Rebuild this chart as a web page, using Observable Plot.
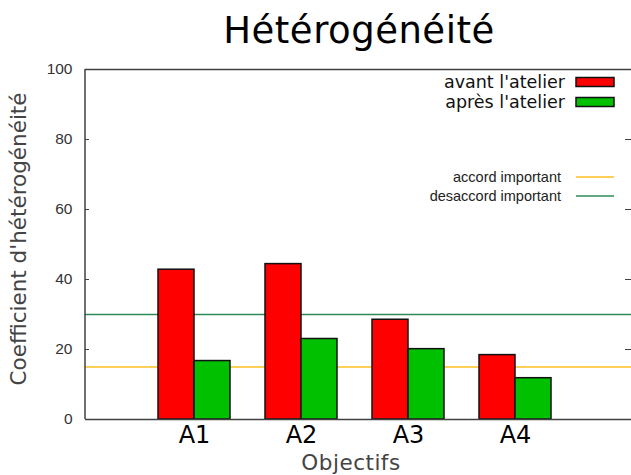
<!DOCTYPE html>
<html>
<head>
<meta charset="utf-8">
<script src="https://cdn.jsdelivr.net/npm/d3@7"></script>
<script src="https://cdn.jsdelivr.net/npm/@observablehq/plot@0.6"></script>
<style>
  html, body { margin: 0; padding: 0; background: #fff; overflow: hidden; }
  #wrap { position: relative; width: 631px; height: 475px; }
</style>
</head>
<body>
<div id="wrap"></div>
<script>
const categories = ["A1", "A2", "A3", "A4"];
const avant = [42.8, 44.4, 28.5, 18.4];
const apres = [16.7, 23.0, 20.1, 11.8];
const seriesNames = ["avant l'atelier", "après l'atelier"];
const thresholdNames = ["accord important", "desaccord important"];
const thresholdValues = [15, 30];
const yTicks = [0, 20, 40, 60, 80, 100];

const data = categories.map((c, i) => ({cat: c, avant: avant[i], apres: apres[i]}));
const thresholds = thresholdNames.map((n, i) => ({name: n, value: thresholdValues[i]}));
const colors = {avant: "#ff0000", apres: "#00c000", accord: "#ffc020", desaccord: "#2e8b57"};

const W = 631, H = 475, mL = 85, mT = 69, mB = 56;
const axisColor = "#404040";

const chart = Plot.plot({
  width: W, height: H,
  marginLeft: mL, marginRight: 0, marginTop: mT, marginBottom: mB,
  style: {fontFamily: "DejaVu Sans, sans-serif", background: "white"},
  x: {domain: categories, range: [mL, 633], paddingInner: 0.331, paddingOuter: 0.71, align: 0.47, axis: null},
  y: {domain: [0, 100], axis: null},
  marks: [
    Plot.ruleY(thresholds, {y: "value", stroke: d => d.name === "accord important" ? colors.accord : colors.desaccord, strokeWidth: 1.5}),
    Plot.barY(data, {x: "cat", y: "avant", fill: colors.avant, stroke: "#111", strokeWidth: 1.5, insetRight: 36}),
    Plot.barY(data, {x: "cat", y: "apres", fill: colors.apres, stroke: "#111", strokeWidth: 1.5, insetLeft: 36}),
    // inward ticks on left and right
    Plot.ruleY(yTicks.slice(1, -1), {y: d => d, stroke: axisColor, strokeWidth: 1, insetRight: 548 - 6}),
    Plot.ruleY(yTicks.slice(1, -1), {y: d => d, stroke: axisColor, strokeWidth: 1, insetLeft: 548 - 8}),
    // frame (top, bottom)
    Plot.ruleY([0, 100], {stroke: axisColor, strokeWidth: 1.5}),
    Plot.axisY({ticks: yTicks, tickSize: 0, tickPadding: 13, fontSize: 15.5, fontFamily: "Liberation Sans, Arial, sans-serif", color: "#333", label: null}),
    Plot.axisX({tickSize: 0, tickPadding: 6, fontSize: 24, fill: "#000", label: null}),
  ]
});

const wrap = document.getElementById("wrap");
wrap.appendChild(chart);

const svg = d3.select(chart);
// left frame line
svg.append("line").attr("x1", mL).attr("x2", mL).attr("y1", mT).attr("y2", H - mB)
  .attr("stroke", axisColor).attr("stroke-width", 1.5);

// Title
svg.append("text").attr("x", 359).attr("y", 43).attr("text-anchor", "middle")
  .attr("font-family", "DejaVu Sans, sans-serif").attr("font-size", 37).attr("fill", "#000")
  .attr("letter-spacing", "0.5px")
  .text("Hétérogénéité");

// Axis labels
svg.append("text").attr("transform", "translate(26,239) rotate(-90)").attr("text-anchor", "middle")
  .attr("font-family", "DejaVu Sans, sans-serif").attr("font-size", 21.5).attr("fill", "#444")
  .text("Coefficient d'hétérogénéité");
svg.append("text").attr("x", 351).attr("y", 470).attr("text-anchor", "middle")
  .attr("font-family", "DejaVu Sans, sans-serif").attr("font-size", 21.5).attr("fill", "#444")
  .attr("letter-spacing", "0.5px")
  .text("Objectifs");

// Legend: series
const leg1 = [{name: seriesNames[0], color: colors.avant, y: 82}, {name: seriesNames[1], color: colors.apres, y: 102}];
leg1.forEach(d => {
  svg.append("text").attr("x", 565).attr("y", d.y).attr("dy", "0.35em").attr("text-anchor", "end")
    .attr("font-family", "DejaVu Sans, sans-serif").attr("font-size", 17.5).attr("fill", "#111").text(d.name);
  svg.append("rect").attr("x", 576).attr("y", d.y - 4.5).attr("width", 38).attr("height", 9)
    .attr("fill", d.color).attr("stroke", "#111").attr("stroke-width", 1.5);
});
// Legend: thresholds
const leg2 = [{name: thresholds[0].name, color: colors.accord, y: 177}, {name: thresholds[1].name, color: colors.desaccord, y: 196}];
leg2.forEach(d => {
  svg.append("text").attr("x", 561).attr("y", d.y).attr("dy", "0.35em").attr("text-anchor", "end")
    .attr("font-family", "Liberation Sans, Arial, sans-serif").attr("font-size", 14.5)
    .attr("fill", "#222").text(d.name);
  svg.append("line").attr("x1", 576).attr("x2", 614).attr("y1", d.y).attr("y2", d.y)
    .attr("stroke", d.color).attr("stroke-width", 1.5);
});
</script>
</body>
</html>
